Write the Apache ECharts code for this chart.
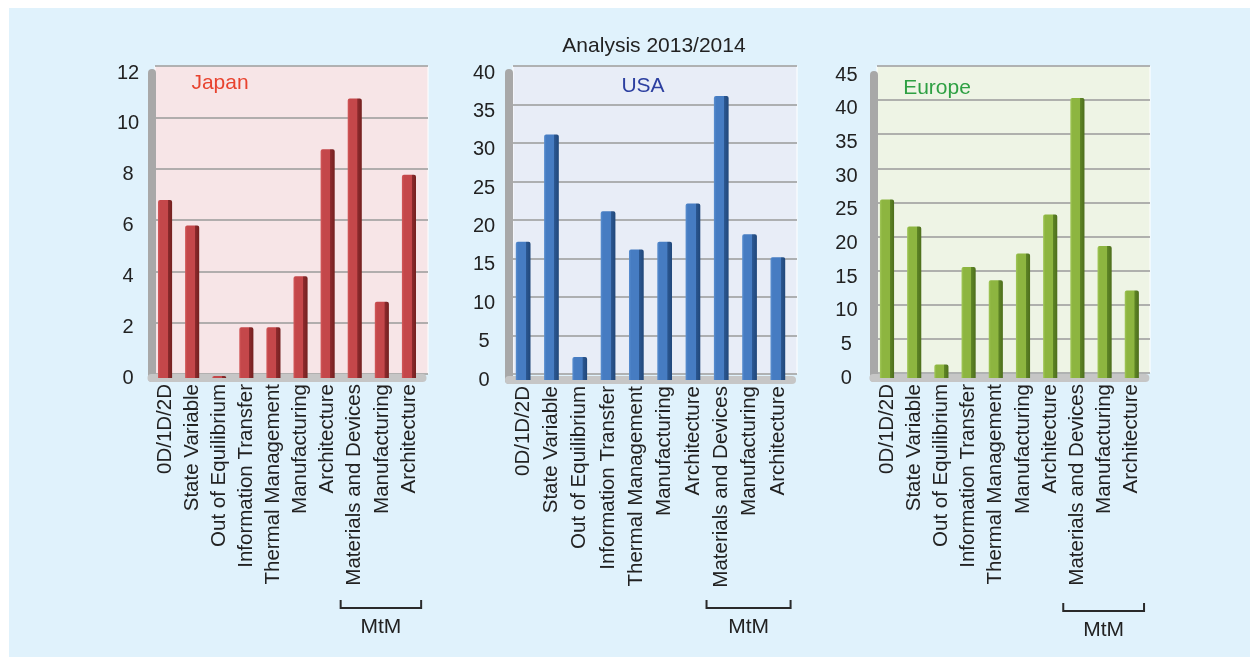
<!DOCTYPE html>
<html><head><meta charset="utf-8">
<script src="https://cdn.jsdelivr.net/npm/echarts@6/dist/echarts.min.js"></script>
<style>
html,body{margin:0;padding:0;background:#fff;}
#bg{position:absolute;left:9px;top:8px;right:0;bottom:0;background:#e0f2fc;}
#c{position:absolute;left:0;top:0;width:1250px;height:657px;}
</style></head><body>
<div id="bg"></div>
<div id="c"></div>
<script>
const categories = ['0D/1D/2D','State Variable','Out of Equilibrium','Information Transfer','Thermal Management','Manufacturing','Architecture','Materials and Devices','Manufacturing','Architecture'];
const japanValues = [7, 6, 0, 2, 2, 4, 9, 11, 3, 8];
const usaValues = [18, 32, 3, 22, 17, 18, 23, 37, 19, 16];
const europeValues = [26.5, 22.5, 2, 16.5, 14.5, 18.5, 24.3, 41.6, 19.6, 13];
const panelNames = ['Japan', 'USA', 'Europe'];
const yMax = [12, 40, 45];
const yStep = [2, 5, 5];
const mtmLabel = 'MtM';
const titleText = 'Analysis 2013/2014';

const FONT = '"Liberation Sans", Arial, Helvetica, sans-serif';
const panels = [
  {values: japanValues, front:{left:151.5, top:73, width:271, height:305}, back:{left:155, top:66, width:273, height:308},
   bg:'#f7e5e7', name:'#e8432f', lblMargin:23.5, nameX:215, nameTop:68, bracketY:608,
   col:['#d2595a','#c4474a','#8c2a2d','#74201f']},
  {values: usaValues, front:{left:509, top:73, width:283, height:307}, back:{left:513, top:66, width:284, height:308},
   bg:'#e8edf7', name:'#2c3fa0', lblMargin:25, nameX:638, nameTop:71, bracketY:608,
   col:['#5a8fd0','#467cc2','#2b5791','#20477a']},
  {values: europeValues, front:{left:873.4, top:75, width:272, height:303}, back:{left:877, top:66, width:273, height:307},
   bg:'#eef4e5', name:'#2ea043', lblMargin:27, nameX:932, nameTop:73, bracketY:611,
   col:['#a2c85a','#8db540','#5e8526','#4d6e1c']}
];

const grid = [], xAxis = [], yAxis = [], series = [], title = [];
title.push({text: titleText, left: 649, top: 31, textAlign: 'center',
  textStyle:{fontFamily:FONT, fontSize:21, fontWeight:'normal', color:'#222'}});
panels.forEach((p, i) => {
  // back wall grids (indices 0..2)
  grid[i] = Object.assign({show:true, backgroundColor:p.bg, borderWidth:1, borderColor:'#ffffff', containLabel:false}, p.back);
  xAxis[i] = {type:'category', gridIndex:i, show:false, data:categories};
  yAxis[i] = {type:'value', gridIndex:i, min:0, max:yMax[i], interval:yStep[i],
    axisLabel:{show:false}, axisLine:{show:false}, axisTick:{show:false},
    splitLine:{show:true, lineStyle:{color:'#9a9a9a', width:1.5}}};
  title.push({text: panelNames[i], left: p.nameX, top: p.nameTop, textAlign:'center',
    textStyle:{fontFamily:FONT, fontSize:21, fontWeight:'normal', color:p.name}});
});
panels.forEach((p, i) => {
  const g = 3 + i;
  grid[g] = Object.assign({show:false, containLabel:false}, p.front);
  xAxis[g] = {type:'category', gridIndex:g, data:categories,
    axisLine:{show:true, lineStyle:{color:'#c6c6c6', width:8}},
    axisTick:{show:false},
    axisLabel:{rotate:90, margin:6, interval:0, fontFamily:FONT, fontSize:20.5, color:'#222'}};
  yAxis[g] = {type:'value', gridIndex:g, min:0, max:yMax[i], interval:yStep[i],
    axisLine:{show:true, lineStyle:{color:'#a8a8a8', width:8}},
    axisTick:{show:false}, splitLine:{show:false},
    axisLabel:{margin:p.lblMargin, align:'center', fontFamily:FONT, fontSize:20, color:'#222'}};
  series.push({type:'bar', xAxisIndex:g, yAxisIndex:g, data:p.values, barWidth:'52%', barMinHeight:2,
    itemStyle:{borderRadius:[2,2,0,0], color:{type:'linear', x:0, y:0, x2:1, y2:0, colorStops:[
      {offset:0, color:p.col[0]}, {offset:0.15, color:p.col[1]}, {offset:0.68, color:p.col[1]},
      {offset:0.70, color:p.col[2]}, {offset:1, color:p.col[3]}]}}});
});

const chart = echarts.init(document.getElementById('c'), null, {renderer:'canvas'});
chart.setOption({animation:false, backgroundColor:'transparent', title, grid, xAxis, yAxis, series});

// MtM brackets beneath the last three categories, positioned through the axis scales
const graphic = [];
panels.forEach((p, i) => {
  const ax = 3 + i;
  const c7 = chart.convertToPixel({xAxisIndex: ax}, 7);
  const c9 = chart.convertToPixel({xAxisIndex: ax}, 9);
  const band = (c9 - c7) / 2;
  const L = c7 - band * 0.52, R = c9 + band * 0.45, y = p.bracketY;
  graphic.push({type:'polyline', shape:{points:[[L, y - 8], [L, y], [R, y], [R, y - 8]]},
    style:{stroke:'#2a2a2a', lineWidth:2, fill:null}});
  graphic.push({type:'text', x:(L + R) / 2, y: y + 19, style:{text: mtmLabel, fontFamily:FONT, fontSize:21,
    fill:'#222', textAlign:'center', textVerticalAlign:'middle'}});
});
chart.setOption({graphic});
</script>
</body></html>
